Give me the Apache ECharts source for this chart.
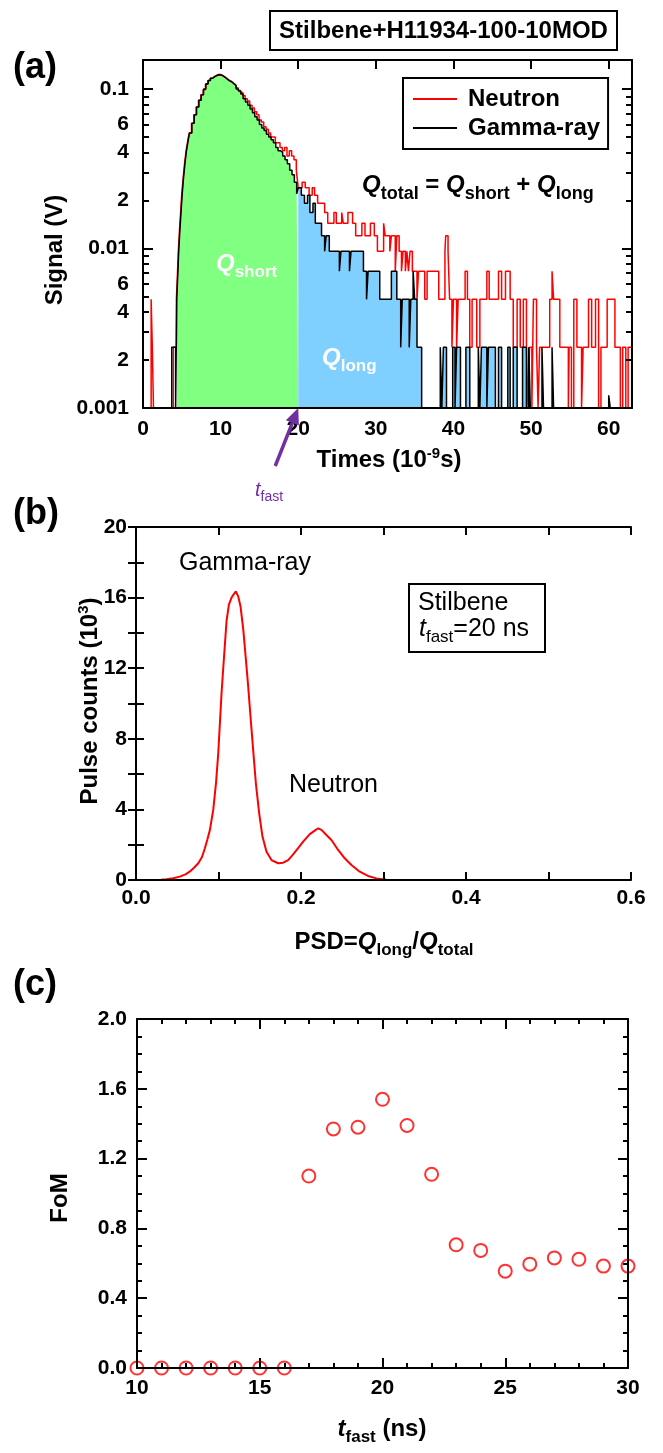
<!DOCTYPE html>
<html><head><meta charset="utf-8">
<script src="https://cdn.jsdelivr.net/npm/echarts@6/dist/echarts.min.js"></script>
<style>html,body{margin:0;padding:0;background:#fff}#c{width:663px;height:1453px}</style>
</head><body><div id="c"></div>
<script>
// ---------- DATA ----------
// Panel (a): pulse waveforms, [time (ns), signal (V)] at the points where the digitised level changes
const neutronPulse = [[0,0.001],[1.05,0.0048],[1.2,0.0024],[1.35,0.001],[3.9,0.0024],[4.3,0.0048],[4.45,0.0072],[4.55,0.0096],[4.7,0.013],[4.85,0.017],[5.0,0.022],[5.15,0.027],[5.35,0.034],[5.55,0.041],[5.75,0.047],[5.95,0.053],[6.25,0.061],[6.55,0.069],[6.85,0.077],[7.15,0.085],[7.45,0.092],[7.75,0.099],[8.05,0.107],[8.35,0.113],[8.65,0.117],[8.95,0.120],[9.25,0.122],[9.55,0.124],[9.85,0.122],[10.15,0.120],[10.45,0.117],[10.75,0.114],[11.05,0.112],[11.35,0.109],[11.65,0.106],[11.95,0.102],[12.25,0.098],[12.55,0.095],[12.85,0.091],[13.15,0.087],[13.45,0.084],[13.75,0.079],[14.05,0.076],[14.35,0.072],[14.65,0.069],[14.95,0.064],[15.25,0.062],[15.55,0.058],[15.85,0.056],[16.15,0.053],[16.45,0.050],[16.75,0.050],[17.05,0.046],[17.35,0.046],[17.65,0.043],[17.95,0.041],[18.25,0.043],[18.55,0.038],[18.85,0.041],[19.15,0.038],[19.45,0.036],[19.75,0.031],[20.0,0.024],[20.5,0.026],[20.9,0.024],[21.4,0.0216],[21.8,0.024],[22.1,0.0216],[22.5,0.0192],[23.0,0.0192],[23.4,0.0168],[23.8,0.0144],[24.6,0.0168],[24.9,0.0144],[25.6,0.0168],[25.8,0.0144],[26.4,0.0168],[27.0,0.0144],[27.4,0.012],[28.2,0.0144],[28.6,0.012],[29.3,0.0144],[29.8,0.012],[30.2,0.0096],[31.0,0.0144],[31.2,0.012],[31.8,0.0096],[32.0,0.012],[32.5,0.0072],[32.7,0.012],[33.0,0.0096],[33.3,0.0072],[33.5,0.0096],[33.8,0.0072],[34.0,0.0096],[34.2,0.0072],[34.4,0.0096],[34.7,0.0072],[35.3,0.0048],[35.5,0.0072],[36.3,0.0048],[36.6,0.0072],[37.0,0.0072],[38.1,0.0048],[38.9,0.0096],[39.0,0.012],[39.3,0.0096],[39.5,0.0048],[39.8,0.0024],[40.0,0.0048],[40.4,0.0024],[40.6,0.0048],[41.5,0.0072],[41.8,0.0048],[42.1,0.0024],[42.4,0.0048],[43.0,0.0024],[43.4,0.0048],[44.3,0.0072],[44.6,0.0048],[45.8,0.0072],[46.2,0.0048],[46.7,0.0072],[47.3,0.0048],[47.7,0.0024],[48.2,0.0048],[48.6,0.0024],[49.0,0.0048],[49.4,0.0024],[49.6,0.001],[49.8,0.0024],[50.1,0.001],[50.3,0.0048],[50.7,0.0024],[50.9,0.001],[51.1,0.0024],[52.4,0.0048],[52.7,0.0072],[52.9,0.0048],[53.7,0.0024],[54.8,0.001],[54.9,0.0024],[55.2,0.001],[55.5,0.0048],[55.9,0.0024],[56.5,0.001],[56.7,0.0024],[57.4,0.0048],[57.8,0.0024],[58.3,0.0048],[58.7,0.001],[59.0,0.0024],[59.8,0.0048],[60.8,0.0024],[61.5,0.001],[61.8,0.0024],[62.2,0.001],[62.5,0.0024],[63.0,0.0024]];
const gammaPulse = [[0,0.001],[3.7,0.0024],[4.2,0.001],[4.35,0.0048],[4.5,0.0072],[4.6,0.0096],[4.75,0.013],[4.9,0.017],[5.05,0.022],[5.2,0.027],[5.4,0.034],[5.6,0.041],[5.8,0.047],[6.0,0.053],[6.3,0.061],[6.6,0.069],[6.9,0.077],[7.2,0.085],[7.5,0.092],[7.8,0.100],[8.1,0.108],[8.4,0.113],[8.7,0.117],[9.0,0.120],[9.3,0.122],[9.6,0.123],[9.9,0.122],[10.2,0.119],[10.5,0.116],[10.8,0.113],[11.1,0.111],[11.4,0.108],[11.7,0.105],[12.0,0.100],[12.3,0.097],[12.6,0.093],[12.9,0.087],[13.2,0.083],[13.5,0.079],[13.8,0.075],[14.1,0.071],[14.4,0.067],[14.7,0.064],[15.0,0.060],[15.3,0.057],[15.6,0.055],[15.9,0.052],[16.2,0.050],[16.5,0.048],[16.8,0.046],[17.1,0.043],[17.4,0.041],[17.7,0.040],[18.0,0.038],[18.3,0.036],[18.6,0.034],[18.9,0.031],[19.2,0.029],[19.5,0.026],[19.8,0.022],[20.0,0.024],[20.4,0.0216],[20.8,0.0192],[21.2,0.0216],[21.5,0.0168],[21.9,0.0192],[22.2,0.0144],[22.6,0.0144],[23.0,0.012],[23.4,0.0096],[23.6,0.012],[24.0,0.0096],[25.3,0.0072],[25.5,0.0096],[26.6,0.0072],[26.8,0.0096],[28.4,0.0072],[28.8,0.0048],[29.0,0.0072],[30.5,0.0048],[32.0,0.0072],[32.7,0.0048],[33.2,0.0024],[33.4,0.0048],[34.3,0.0024],[34.5,0.0048],[34.8,0.0072],[35.0,0.0048],[35.3,0.0024],[35.9,0.001],[38.3,0.0024],[38.5,0.001],[38.7,0.0024],[39.1,0.001],[39.9,0.0024],[40.2,0.001],[40.4,0.0024],[40.9,0.001],[41.6,0.0024],[42.1,0.001],[43.2,0.0024],[43.4,0.001],[43.6,0.0024],[44.3,0.001],[44.5,0.0024],[45.4,0.001],[45.8,0.0024],[46.2,0.001],[47.0,0.0024],[47.3,0.001],[47.7,0.0024],[48.2,0.001],[48.9,0.0024],[49.4,0.001],[49.7,0.0024],[49.9,0.001],[51.4,0.0024],[51.6,0.001],[52.7,0.0024],[52.9,0.001],[60.0,0.0012],[60.2,0.001],[63.0,0.001]];
const tFast = 20;          // integration split (ns)
const gateStart = 4.3;     // start of the Q_short gate (ns)
const logLabelValues = [0.001,0.002,0.004,0.006,0.01,0.02,0.04,0.06,0.1];
const logMajorTicks = [0.001,0.01,0.1];
const logMinorTicks = [0.002,0.003,0.004,0.005,0.006,0.007,0.008,0.009,0.02,0.03,0.04,0.05,0.06,0.07,0.08,0.09];

// Panel (b): PSD histogram, [PSD, pulse counts (10^3)]
const psdCounts = [[0,0],[0.02,0],[0.03,0.01],[0.037,0.04],[0.045,0.1],[0.053,0.19],[0.06,0.32],[0.065,0.47],[0.07,0.68],[0.0755,0.95],[0.08,1.3],[0.0835,1.8],[0.0865,2.3],[0.0896,2.84],[0.0936,3.97],[0.097,5.5],[0.0997,7.18],[0.1037,10.6],[0.107,12.85],[0.1098,14.7],[0.1126,15.6],[0.1158,16.0],[0.1186,16.2],[0.121,16.35],[0.1225,16.3],[0.1239,16.07],[0.1267,15.5],[0.13,14.2],[0.1332,12.5],[0.136,10.96],[0.1388,9.26],[0.142,7.37],[0.1453,5.48],[0.1493,3.78],[0.1533,2.46],[0.1582,1.6],[0.1642,1.13],[0.1723,0.95],[0.1784,0.98],[0.1844,1.13],[0.19,1.42],[0.1965,1.8],[0.2026,2.17],[0.2107,2.6],[0.2167,2.8],[0.2207,2.93],[0.2248,2.84],[0.2308,2.55],[0.2369,2.27],[0.245,1.7],[0.253,1.23],[0.2611,0.85],[0.2712,0.47],[0.2813,0.23],[0.2914,0.09],[0.3035,0.02],[0.315,0],[0.6,0]];

// Panel (c): FoM vs t_fast
const tFastValues = [10,11,12,13,14,15,16,17,18,19,20,21,22,23,24,25,26,27,28,29,30];
const fomValues = [0,0,0,0,0,0,0,1.10,1.37,1.38,1.54,1.39,1.11,0.706,0.674,0.555,0.595,0.631,0.623,0.584,0.584];

// ---------- CHART ----------
const FONT = '"Liberation Sans", Arial, Helvetica, sans-serif';
const BLACK = '#000';
const chart = echarts.init(document.getElementById('c'), null, {renderer: 'canvas', width: 663, height: 1453});

const lineSt = {color: BLACK, width: 2};
function tickLabel(extra) {
  return Object.assign({show: true, color: BLACK, fontFamily: FONT, fontWeight: 'bold', fontSize: 21}, extra || {});
}
function mirrorX(grid, min, max, interval, tickLen, minor) {
  return {type: 'value', gridIndex: grid, position: 'top', min, max, interval, z: 10,
    axisLine: {show: true, onZero: false, lineStyle: lineSt},
    axisTick: {show: true, inside: true, length: tickLen, lineStyle: lineSt},
    minorTick: minor ? Object.assign({show: true, lineStyle: lineSt}, minor) : {show: false},
    axisLabel: {show: false}, splitLine: {show: false}};
}

const gammaShort = gammaPulse.filter(p => p[0] >= gateStart && p[0] < tFast);
const lastShort = gammaShort[gammaShort.length - 1][1];
gammaShort.push([tFast, lastShort]);
const gammaLong = [[tFast, lastShort]].concat(gammaPulse.filter(p => p[0] >= tFast));

function logLabelFmt(v) {
  const e = Math.floor(Math.log10(v) + 1e-9);
  const m = Math.round(v / Math.pow(10, e));
  if (m === 1) return String(Number(v.toPrecision(1)));
  return String(m);
}

const option = {
  animation: false,
  backgroundColor: '#fff',
  textStyle: {fontFamily: FONT},
  grid: [
    {left: 143, top: 60, width: 489, height: 348},
    {left: 136, top: 527, width: 495, height: 353},
    {left: 137, top: 1019, width: 491, height: 349}
  ],
  legend: {
    data: ['Neutron', 'Gamma-ray'], orient: 'vertical', left: 403, top: 78,
    backgroundColor: '#fff', borderColor: BLACK, borderWidth: 2, borderRadius: 0,
    padding: [9, 8, 9, 10], itemGap: 5, itemWidth: 44, itemHeight: 2, icon: 'rect',
    textStyle: {color: BLACK, fontFamily: FONT, fontWeight: 'bold', fontSize: 24, padding: [0, 0, 0, 6]},
    selectedMode: false
  },
  xAxis: [
    {type: 'value', gridIndex: 0, min: 0, max: 63, interval: 10, z: 10,
      axisLine: {show: true, onZero: false, lineStyle: lineSt},
      axisTick: {show: false},
      axisLabel: tickLabel({margin: 11, showMaxLabel: false, formatter: v => (v % 10 === 0 ? String(v) : '')}),
      splitLine: {show: false}},
    mirrorX(0, 0, 63, 10, 9),
    {type: 'value', gridIndex: 1, min: 0, max: 0.6, interval: 0.1, z: 10,
      axisLine: {show: true, onZero: false, lineStyle: lineSt},
      axisTick: {show: true, inside: true, length: 8, lineStyle: lineSt},
      axisLabel: tickLabel({margin: 8, formatter: v => (Math.abs(v / 0.2 - Math.round(v / 0.2)) < 1e-6 ? v.toFixed(1) : '')}),
      splitLine: {show: false}},
    mirrorX(1, 0, 0.6, 0.1, 8),
    {type: 'value', gridIndex: 2, min: 10, max: 30, interval: 5, z: 10,
      axisLine: {show: true, onZero: false, lineStyle: lineSt},
      axisTick: {show: true, inside: true, length: 10, lineStyle: lineSt},
      minorTick: {show: true, splitNumber: 5, length: 5, lineStyle: lineSt},
      axisLabel: tickLabel({margin: 10}), splitLine: {show: false}},
    mirrorX(2, 10, 30, 5, 10, {splitNumber: 5, length: 5})
  ],
  yAxis: [
    {type: 'log', logBase: 10, gridIndex: 0, min: 0.001, max: 0.152, position: 'left', z: 10,
      axisLine: {show: true, lineStyle: lineSt},
      axisTick: {show: true, inside: true, length: 10, customValues: logMajorTicks, lineStyle: lineSt},
      axisLabel: tickLabel({margin: 14, customValues: logLabelValues, formatter: logLabelFmt}),
      splitLine: {show: false}},
    {type: 'log', logBase: 10, gridIndex: 0, min: 0.001, max: 0.152, position: 'left', z: 10,
      axisLine: {show: false},
      axisTick: {show: true, inside: true, length: 6, customValues: logMinorTicks, lineStyle: lineSt},
      axisLabel: {show: false}, splitLine: {show: false}},
    {type: 'log', logBase: 10, gridIndex: 0, min: 0.001, max: 0.152, position: 'right', z: 10,
      axisLine: {show: true, lineStyle: lineSt},
      axisTick: {show: true, inside: true, length: 10, customValues: logMajorTicks, lineStyle: lineSt},
      axisLabel: {show: false}, splitLine: {show: false}},
    {type: 'log', logBase: 10, gridIndex: 0, min: 0.001, max: 0.152, position: 'right', z: 10,
      axisLine: {show: false},
      axisTick: {show: true, inside: true, length: 6, customValues: logMinorTicks, lineStyle: lineSt},
      axisLabel: {show: false}, splitLine: {show: false}},
    {type: 'value', gridIndex: 1, min: 0, max: 20, interval: 2, position: 'left', z: 10,
      axisLine: {show: true, lineStyle: lineSt},
      axisTick: {show: true, inside: true, length: 8, lineStyle: lineSt},
      axisLabel: tickLabel({margin: 9, formatter: v => (v % 4 === 0 ? String(v) : '')}),
      splitLine: {show: false}},
    {type: 'value', gridIndex: 1, min: 0, max: 20, interval: 2, position: 'right', z: 10,
      axisLine: {show: true, lineStyle: lineSt},
      axisTick: {show: true, inside: true, length: 8, lineStyle: lineSt},
      axisLabel: {show: false}, splitLine: {show: false}},
    {type: 'value', gridIndex: 2, min: 0, max: 2, interval: 0.4, position: 'left', z: 10,
      axisLine: {show: true, lineStyle: lineSt},
      axisTick: {show: true, inside: true, length: 10, lineStyle: lineSt},
      minorTick: {show: true, splitNumber: 4, length: 5, lineStyle: lineSt},
      axisLabel: tickLabel({margin: 10, formatter: v => v.toFixed(1)}),
      splitLine: {show: false}},
    {type: 'value', gridIndex: 2, min: 0, max: 2, interval: 0.4, position: 'right', z: 10,
      axisLine: {show: true, lineStyle: lineSt},
      axisTick: {show: true, inside: true, length: 10, lineStyle: lineSt},
      minorTick: {show: true, splitNumber: 4, length: 5, lineStyle: lineSt},
      axisLabel: {show: false}, splitLine: {show: false}}
  ],
  series: [
    {name: 'Q_short area', type: 'line', xAxisIndex: 0, yAxisIndex: 0, step: 'end', data: gammaShort,
      symbol: 'none', lineStyle: {width: 0}, areaStyle: {color: '#80FF80', opacity: 1}, z: 1, silent: true},
    {name: 'Q_long area', type: 'line', xAxisIndex: 0, yAxisIndex: 0, step: 'end', data: gammaLong,
      symbol: 'none', lineStyle: {width: 0}, areaStyle: {color: '#80D0FF', opacity: 1}, z: 1, silent: true},
    {name: 'Neutron', type: 'line', xAxisIndex: 0, yAxisIndex: 0, step: 'end', data: neutronPulse,
      symbol: 'none', color: '#FF0000', lineStyle: {color: '#FF0000', width: 1.5}, z: 2},
    {name: 'Gamma-ray', type: 'line', xAxisIndex: 0, yAxisIndex: 0, step: 'end', data: gammaPulse,
      symbol: 'none', color: BLACK, lineStyle: {color: BLACK, width: 1.5}, z: 3},
    {name: 'PSD', type: 'line', xAxisIndex: 2, yAxisIndex: 4, data: psdCounts,
      symbol: 'none', color: '#FF0000', lineStyle: {color: '#FF0000', width: 2}, z: 2},
    {name: 'FoM', type: 'scatter', xAxisIndex: 4, yAxisIndex: 6, clip: false,
      data: tFastValues.map((t, i) => [t, fomValues[i]]),
      symbol: 'circle', symbolSize: 13,
      itemStyle: {color: 'rgba(255,255,255,0)', borderColor: '#FF0000', borderWidth: 2}, z: 5}
  ]
};
chart.setOption(option);

// ---------- ANNOTATIONS ----------
const P = '#7030A0';
function txt(x, y, text, st, extra) {
  return Object.assign({type: 'text', x, y, z: 100, style: Object.assign({text, fill: BLACK, fontFamily: FONT}, st)}, extra || {});
}
function subRich(F, S, weight, color) {
  return {
    q: {fontSize: F, lineHeight: F + 2, fontWeight: weight, fontStyle: 'italic', fill: color, fontFamily: FONT, verticalAlign: 'top'},
    m: {fontSize: F, lineHeight: F + 2, fontWeight: weight, fill: color, fontFamily: FONT, verticalAlign: 'top'},
    s: {fontSize: S, lineHeight: S, fontWeight: weight, fill: color, fontFamily: FONT, verticalAlign: 'top', padding: [Math.round(F * 0.5), 0, 0, 0]}
  };
}
const tip = chart.convertToPixel({xAxisIndex: 0, yAxisIndex: 0}, [tFast, 0.001]);
const tail = [tip[0] - 23, tip[1] + 58];
const ang = Math.atan2(tip[1] - tail[1], tip[0] - tail[0]);
const hl = 16, hw = 7;
const base = [tip[0] - hl * Math.cos(ang), tip[1] - hl * Math.sin(ang)];
const head = [tip, [base[0] + hw * Math.sin(ang), base[1] - hw * Math.cos(ang)], [base[0] - hw * Math.sin(ang), base[1] + hw * Math.cos(ang)]];

const graphics = [
  {type: 'rect', z: 100, shape: {x: 270, y: 11, width: 347, height: 39}, style: {fill: '#fff', stroke: BLACK, lineWidth: 2}},
  txt(443.5, 31, 'Stilbene+H11934-100-10MOD', {fontSize: 24, fontWeight: 'bold', align: 'center', verticalAlign: 'middle'}),
  txt(13, 68, '(a)', {fontSize: 36, fontWeight: 'bold', verticalAlign: 'middle'}),
  txt(13, 514, '(b)', {fontSize: 36, fontWeight: 'bold', verticalAlign: 'middle'}),
  txt(13, 985, '(c)', {fontSize: 36, fontWeight: 'bold', verticalAlign: 'middle'}),
  // axis titles
  txt(55, 250, 'Signal (V)', {fontSize: 24, fontWeight: 'bold', align: 'center', verticalAlign: 'middle'}, {rotation: Math.PI / 2}),
  txt(389, 459, '{m|Times (10}{p|-9}{m|s)}', {align: 'center', verticalAlign: 'middle', rich: {
    m: {fontSize: 24, lineHeight: 26, fontWeight: 'bold', fontFamily: FONT, fill: BLACK, verticalAlign: 'bottom'},
    p: {fontSize: 15, lineHeight: 15, fontWeight: 'bold', fontFamily: FONT, fill: BLACK, verticalAlign: 'top'}}}),
  txt(89, 701, '{m|Pulse counts (10}{p|3}{m|)}', {align: 'center', verticalAlign: 'middle', rich: {
    m: {fontSize: 24, lineHeight: 26, fontWeight: 'bold', fontFamily: FONT, fill: BLACK, verticalAlign: 'bottom'},
    p: {fontSize: 15, lineHeight: 15, fontWeight: 'bold', fontFamily: FONT, fill: BLACK, verticalAlign: 'top'}}}, {rotation: Math.PI / 2}),
  txt(384, 943, '{m|PSD=}{q|Q}{s|long}{m|/}{q|Q}{s|total}', {align: 'center', verticalAlign: 'middle', rich: subRich(24, 17, 'bold', BLACK)}),
  txt(60, 1198, 'FoM', {fontSize: 24, fontWeight: 'bold', align: 'center', verticalAlign: 'middle'}, {rotation: Math.PI / 2}),
  txt(382, 1430, '{q|t}{s|fast}{m| (ns)}', {align: 'center', verticalAlign: 'middle', rich: subRich(24, 17, 'bold', BLACK)}),
  // panel (a) annotations
  txt(362, 173, '{q|Q}{s|total}{m| = }{q|Q}{s|short}{m| + }{q|Q}{s|long}', {rich: subRich(24, 18, 'bold', BLACK)}),
  txt(216, 252, '{q|Q}{s|short}', {rich: subRich(24, 17, 'bold', '#fff')}),
  txt(322, 346, '{q|Q}{s|long}', {rich: subRich(24, 17, 'bold', '#fff')}),
  {type: 'line', z: 100, shape: {x1: tail[0], y1: tail[1], x2: base[0], y2: base[1]}, style: {stroke: P, lineWidth: 3.5}},
  {type: 'polygon', z: 100, shape: {points: head}, style: {fill: P}},
  txt(255, 480, '{q|t}{s|fast}', {rich: {
    q: {fontSize: 20, lineHeight: 20, fontStyle: 'italic', fill: P, fontFamily: FONT, verticalAlign: 'top'},
    s: {fontSize: 14, lineHeight: 14, fill: P, fontFamily: FONT, verticalAlign: 'top', padding: [10, 0, 0, 0]}}}),
  // panel (b) annotations
  txt(179, 563, 'Gamma-ray', {fontSize: 25, verticalAlign: 'middle'}),
  txt(289, 785, 'Neutron', {fontSize: 25, verticalAlign: 'middle'}),
  {type: 'rect', z: 100, shape: {x: 409, y: 584, width: 136, height: 68}, style: {fill: '#fff', stroke: BLACK, lineWidth: 2}},
  txt(418, 603, 'Stilbene', {fontSize: 25, verticalAlign: 'middle'}),
  txt(419, 617, '{q|t}{s|fast}{m|=20 ns}', {rich: {
    q: {fontSize: 25, lineHeight: 26, fontStyle: 'italic', fill: BLACK, fontFamily: FONT, verticalAlign: 'top'},
    m: {fontSize: 25, lineHeight: 26, fill: BLACK, fontFamily: FONT, verticalAlign: 'top'},
    s: {fontSize: 17, lineHeight: 17, fill: BLACK, fontFamily: FONT, verticalAlign: 'top', padding: [12, 0, 0, 0]}}})
];
chart.setOption({graphic: graphics});
</script></body></html>
